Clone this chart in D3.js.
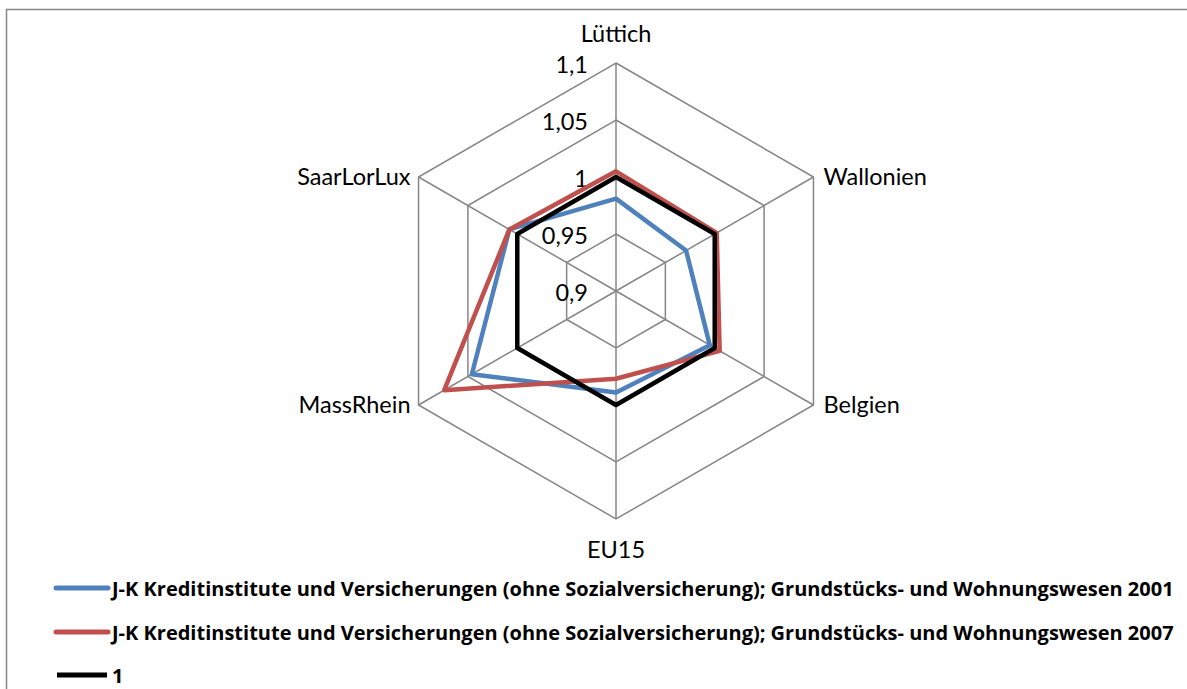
<!DOCTYPE html>
<html>
<head>
<meta charset="utf-8">
<script src="https://cdn.jsdelivr.net/npm/d3@7"></script>
<style>
  body { margin: 0; background: #fff; }
  svg { display: block; }
  .axis-label, .tick-label { font-family: Lato, "Noto Sans", sans-serif; font-size: 23.5px; fill: #000; }
  .legend-text { font-family: "Open Sans", Lato, sans-serif; font-size: 20px; font-weight: bold; fill: #000; }
</style>
</head>
<body>
<div id="chart"></div>
<script>
// categories (clockwise from top)
const categories = ["Lüttich", "Wallonien", "Belgien", "EU15", "MassRhein", "SaarLorLux"];

// series values
const values2001 = [0.981, 0.971, 0.995, 0.989, 1.046, 1.008];
const values2007 = [1.005, 1.002, 1.005, 0.977, 1.074, 1.008];
const valuesOne = [1, 1, 1, 1, 1, 1];

const seriesNames = [
    "J-K Kreditinstitute und Versicherungen (ohne Sozialversicherung); Grundstücks- und Wohnungswesen 2001",
    "J-K Kreditinstitute und Versicherungen (ohne Sozialversicherung); Grundstücks- und Wohnungswesen 2007",
    "1"
];
const seriesColors = ["#4F81BD", "#C0504D", "#000000"];

// tick labels
const ticks = [0.9, 0.95, 1, 1.05, 1.1];
const tickLabels = ["0,9", "0,95", "1", "1,05", "1,1"];

const width = 1187, height = 689;
const cx = 616, cy = 291, radius = 228;

const svg = d3.select("#chart").append("svg")
    .attr("width", width)
    .attr("height", height);

// chart border
svg.append("rect")
    .attr("x", 6.5)
    .attr("y", 9.5)
    .attr("width", width + 20)
    .attr("height", height + 20)
    .attr("fill", "none")
    .attr("stroke", "#868686")
    .attr("stroke-width", 1.5);

const r = d3.scaleLinear().domain([0.9, 1.1]).range([0, radius]);
const angle = i => i * 2 * Math.PI / categories.length;

const g = svg.append("g").attr("transform", `translate(${cx},${cy})`);

// grid rings
const ring = d3.lineRadial()
    .angle((d, i) => angle(i))
    .radius(d => r(d))
    .curve(d3.curveLinearClosed);

ticks.slice(1).forEach(t => {
    g.append("path")
        .attr("d", ring(categories.map(() => t)))
        .attr("fill", "none")
        .attr("stroke", "#868686")
        .attr("stroke-width", 1.5);
});

// spokes
categories.forEach((c, i) => {
    const a = angle(i);
    g.append("line")
        .attr("x1", 0).attr("y1", 0)
        .attr("x2", r(1.1) * Math.sin(a))
        .attr("y2", -r(1.1) * Math.cos(a))
        .attr("stroke", "#868686")
        .attr("stroke-width", 1.5);
});

// tick labels
g.selectAll(".tick-label")
    .data(ticks)
    .enter().append("text")
    .attr("class", "tick-label")
    .attr("x", -28)
    .attr("y", d => -r(d) + 1)
    .attr("text-anchor", "end")
    .attr("dominant-baseline", "central")
    .text((d, i) => tickLabels[i]);

// category labels
categories.forEach((c, i) => {
    const a = angle(i);
    const rr = r(1.1);
    let x = rr * Math.sin(a), y = -rr * Math.cos(a);
    let anchor = "middle";
    if (Math.abs(Math.sin(a)) < 0.1) { y += (Math.cos(a) > 0 ? -30 : 30); }
    else if (Math.sin(a) > 0) { anchor = "start"; x += 10; y -= 1; }
    else { anchor = "end"; x -= 8; y -= 1; }
    g.append("text")
        .attr("class", "axis-label")
        .attr("x", x)
        .attr("y", y)
        .attr("text-anchor", anchor)
        .attr("dominant-baseline", "central")
        .text(c);
});

// series
const allSeries = [values2001, values2007, valuesOne];
allSeries.forEach((vals, k) => {
    g.append("path")
        .attr("d", ring(vals))
        .attr("fill", "none")
        .attr("stroke", seriesColors[k])
        .attr("stroke-width", 4.5)
        .attr("stroke-linejoin", "round");
});

// legend
const legendY = [588, 632, 675];
seriesNames.forEach((name, k) => {
    const lg = svg.append("g").attr("transform", `translate(0,${legendY[k]})`);
    lg.append("line")
        .attr("x1", k === 2 ? 57 : 56).attr("x2", k === 2 ? 107 : 108)
        .attr("y1", 0).attr("y2", 0)
        .attr("stroke", seriesColors[k])
        .attr("stroke-width", 5)
        .attr("stroke-linecap", k === 2 ? "butt" : "round");
    lg.append("text")
        .attr("class", "legend-text")
        .attr("x", 112)
        .attr("y", 0)
        .attr("dominant-baseline", "central")
        .text(name);
});
</script>
</body>
</html>
